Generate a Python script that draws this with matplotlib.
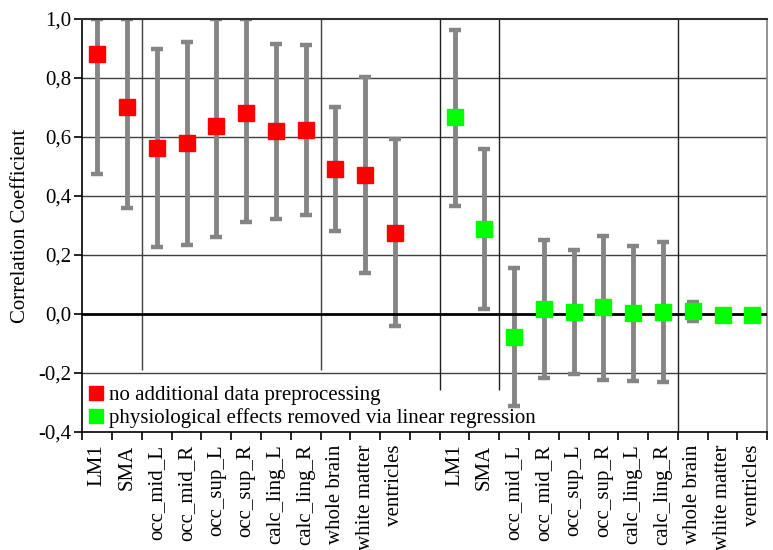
import numpy as np
import matplotlib
matplotlib.use("Agg")
import matplotlib.pyplot as plt
from matplotlib.lines import Line2D
from matplotlib.ticker import FuncFormatter

plt.rcParams['font.family'] = ['Liberation Serif', 'DejaVu Serif']

regions = ["LM1", "SMA", "occ_mid_L", "occ_mid_R", "occ_sup_L", "occ_sup_R",
           "calc_ling_L", "calc_ling_R", "whole brain", "white matter", "ventricles"]

# no additional data preprocessing
raw_mean = [0.880, 0.702, 0.563, 0.579, 0.637, 0.683, 0.621, 0.622, 0.491, 0.472, 0.276]
raw_low = [0.475, 0.361, 0.226, 0.235, 0.261, 0.313, 0.322, 0.335, 0.280, 0.138, -0.041]
raw_high = [1.0, 1.0, 0.899, 0.922, 1.0, 1.0, 0.916, 0.912, 0.701, 0.802, 0.593]

# physiological effects removed via linear regression
reg_mean = [0.667, 0.288, -0.078, 0.016, 0.007, 0.023, 0.002, 0.007, 0.009, -0.004, -0.004]
reg_low = [0.366, 0.016, -0.312, -0.217, -0.204, -0.222, -0.227, -0.232, -0.024, -0.004, -0.004]
reg_high = [0.964, 0.559, 0.157, 0.250, 0.216, 0.263, 0.229, 0.244, 0.040, -0.004, -0.004]

labels = regions + [""] + regions

fig = plt.figure(figsize=(7.73, 5.5), dpi=100)
ax = fig.add_axes([0.1065, 0.2145, 0.886, 0.751])

n = len(regions)
x_raw = np.arange(n)
x_reg = np.arange(n) + n + 1

# grid lines
for v in [0.2, 0.4, 0.6, 0.8, -0.2]:
    ax.axhline(v, color="#404040", lw=1.0, zorder=1)
ax.axhline(0.0, color="black", lw=2.0, zorder=4)

# group separators
ax.vlines([1.5, 7.5], -0.19, 1.0, color="#404040", lw=1.0, zorder=1)
ax.vlines([11.5, 13.5], -0.257, 1.0, color="#202020", lw=1.0, zorder=1)
ax.vlines([19.5], -0.4, 1.0, color="#202020", lw=1.0, zorder=1)

ekw = dict(fmt="none", ecolor="#858585", elinewidth=3.5, capsize=4.5, capthick=3.2, zorder=2)
ax.errorbar(x_raw, raw_mean,
            yerr=[np.array(raw_mean) - np.array(raw_low), np.array(raw_high) - np.array(raw_mean)], **ekw)
ax.errorbar(x_reg, reg_mean,
            yerr=[np.array(reg_mean) - np.array(reg_low), np.array(reg_high) - np.array(reg_mean)], **ekw)

ax.plot(x_raw, raw_mean, "s", color="#ff0000", markersize=12, zorder=5)
ax.plot(x_reg, reg_mean, "s", color="#00ff00", markersize=12, zorder=5)

ax.set_xlim(-0.5, len(labels) - 0.5)
ax.set_ylim(-0.4, 1.0)
ax.set_yticks(np.arange(-0.4, 1.01, 0.2))
ax.yaxis.set_major_formatter(FuncFormatter(lambda v, p: ("%.1f" % v).replace(".", ",").replace("-0,0", "0,0")))

ax.set_xticks(np.arange(len(labels) + 1) - 0.5)
ax.set_xticklabels([])
ax.set_xticks(np.arange(len(labels)), minor=True)
ax.set_xticklabels(labels, minor=True, rotation=90, fontsize=15)
ax.tick_params(axis="x", which="minor", length=0, pad=9)
ax.tick_params(axis="x", which="major", length=6, width=1.2, direction="out")
ax.tick_params(axis="y", length=6, width=1.2, direction="out", labelsize=15, pad=2)

ax.spines["top"].set_linewidth(1.5)
ax.spines["top"].set_color("#303030")
ax.spines["right"].set_color("#808080")
ax.spines["right"].set_linewidth(1.2)
ax.spines["left"].set_linewidth(1.2)
ax.spines["bottom"].set_linewidth(1.2)

ax.set_ylabel("Correlation Coefficient", fontsize=15, labelpad=6)

handles = [Line2D([], [], ls="none", marker="s", color="#ff0000", markersize=9.5),
           Line2D([], [], ls="none", marker="s", color="#00ff00", markersize=9.5)]
ax.legend(handles, ["no additional data preprocessing",
                    "physiological effects removed via linear regression"],
          loc="lower left", bbox_to_anchor=(0.0, -0.005), frameon=False, fontsize=15,
          handlelength=0.7, handletextpad=0.3, labelspacing=0.12, borderaxespad=0.1,
          borderpad=0.2)

fig.savefig("out.png", dpi=100)
